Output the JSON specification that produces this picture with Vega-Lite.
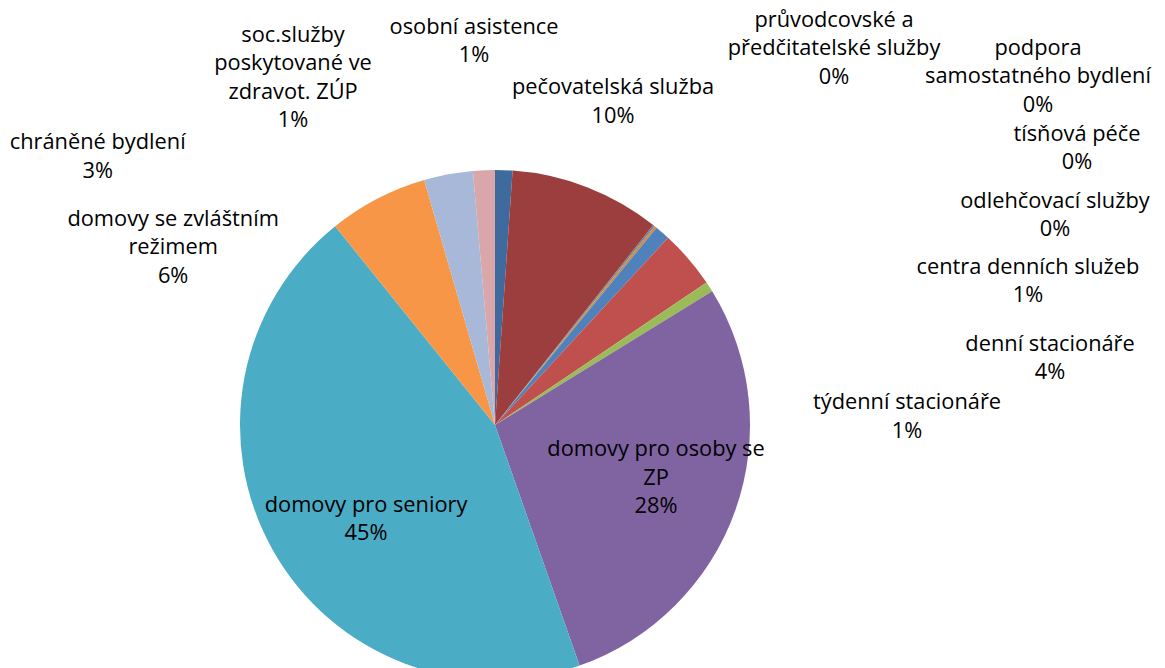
{
  "$schema": "https://vega.github.io/schema/vega-lite/v6.json",
  "autosize": {"type": "none"},
  "width": 990,
  "height": 486,
  "padding": {"left": 0, "top": 182, "right": 175, "bottom": 0},
  "background": "#ffffff",
  "config": {
    "view": {"stroke": null},
    "text": {"font": "Open Sans", "fontSize": 21.8, "fill": "#000000", "align": "center", "baseline": "middle", "lineBreak": "\n", "lineHeight": 28.5}
  },
  "data": {
    "values": [
      {"service": "osobní asistence", "share": 1.1, "ord": 1, "label": "osobní asistence\n1%"},
      {"service": "pečovatelská služba", "share": 9.55, "ord": 2, "label": "pečovatelská služba\n10%"},
      {"service": "průvodcovské a předčitatelské služby", "share": 0.03, "ord": 3, "label": "průvodcovské a\npředčitatelské služby\n0%"},
      {"service": "podpora samostatného bydlení", "share": 0.04, "ord": 4, "label": "podpora\nsamostatného bydlení\n0%"},
      {"service": "tísňová péče", "share": 0.05, "ord": 5, "label": "tísňová péče\n0%"},
      {"service": "odlehčovací služby", "share": 0.15, "ord": 6, "label": "odlehčovací služby\n0%"},
      {"service": "centra denních služeb", "share": 0.95, "ord": 7, "label": "centra denních služeb\n1%"},
      {"service": "denní stacionáře", "share": 3.7, "ord": 8, "label": "denní stacionáře\n4%"},
      {"service": "týdenní stacionáře", "share": 0.65, "ord": 9, "label": "týdenní stacionáře\n1%"},
      {"service": "domovy pro osoby se ZP", "share": 28.4, "ord": 10, "label": "domovy pro osoby se\nZP\n28%"},
      {"service": "domovy pro seniory", "share": 44.6, "ord": 11, "label": "domovy pro seniory\n45%"},
      {"service": "domovy se zvláštním režimem", "share": 6.3, "ord": 12, "label": "domovy se zvláštním\nrežimem\n6%"},
      {"service": "chráněné bydlení", "share": 3.1, "ord": 13, "label": "chráněné bydlení\n3%"},
      {"service": "soc.služby poskytované ve zdravot. ZÚP", "share": 1.38, "ord": 14, "label": "soc.služby\nposkytované ve\nzdravot. ZÚP\n1%"}
    ]
  },
  "encoding": {
    "theta": {"field": "share", "type": "quantitative", "stack": true},
    "order": {"field": "ord", "type": "quantitative"},
    "detail": {"field": "service", "type": "nominal"}
  },
  "layer": [
    {
      "mark": {"type": "arc", "outerRadius": 255},
      "encoding": {
        "color": {
          "field": "service",
          "type": "nominal",
          "legend": null,
          "scale": {
            "domain": ["osobní asistence", "pečovatelská služba", "průvodcovské a předčitatelské služby", "podpora samostatného bydlení", "tísňová péče", "odlehčovací služby", "centra denních služeb", "denní stacionáře", "týdenní stacionáře", "domovy pro osoby se ZP", "domovy pro seniory", "domovy se zvláštním režimem", "chráněné bydlení", "soc.služby poskytované ve zdravot. ZÚP"],
            "range": ["#3E6A9E", "#9C3E3D", "#7F7F7F", "#4D3B62", "#3B8FA5", "#D7883C", "#4F81BD", "#C0504D", "#9BBB59", "#8064A2", "#4BACC6", "#F79646", "#A8B8D8", "#D9A7A9"]
          }
        }
      }
    },
    {"mark": {"type": "text", "radius": 290, "dx": -31, "dy": -108.45},
     "encoding": {"text": {"condition": {"test": "datum.ord === 1", "field": "label"}, "value": ""}}},
    {"mark": {"type": "text", "radius": 290, "dx": 13.4, "dy": -67.25},
     "encoding": {"text": {"condition": {"test": "datum.ord === 2", "field": "label"}, "value": ""}}},
    {"mark": {"type": "text", "radius": 290, "dx": 158.9, "dy": -178},
     "encoding": {"text": {"condition": {"test": "datum.ord === 3", "field": "label"}, "value": ""}}},
    {"mark": {"type": "text", "radius": 290, "dx": 362.4, "dy": -150.6},
     "encoding": {"text": {"condition": {"test": "datum.ord === 4", "field": "label"}, "value": ""}}},
    {"mark": {"type": "text", "radius": 290, "dx": 400.7, "dy": -64.85},
     "encoding": {"text": {"condition": {"test": "datum.ord === 5", "field": "label"}, "value": ""}}},
    {"mark": {"type": "text", "radius": 290, "dx": 377.3, "dy": 0.95},
     "encoding": {"text": {"condition": {"test": "datum.ord === 6", "field": "label"}, "value": ""}}},
    {"mark": {"type": "text", "radius": 290, "dx": 342.6, "dy": 60.55},
     "encoding": {"text": {"condition": {"test": "datum.ord === 7", "field": "label"}, "value": ""}}},
    {"mark": {"type": "text", "radius": 290, "dx": 334.9, "dy": 107.55},
     "encoding": {"text": {"condition": {"test": "datum.ord === 8", "field": "label"}, "value": ""}}},
    {"mark": {"type": "text", "radius": 290, "dx": 168.2, "dy": 134.25},
     "encoding": {"text": {"condition": {"test": "datum.ord === 9", "field": "label"}, "value": ""}}},
    {"mark": {"type": "text", "radius": 165, "dx": 5.5, "dy": -31.1},
     "encoding": {"text": {"condition": {"test": "datum.ord === 10", "field": "label"}, "value": ""}}},
    {"mark": {"type": "text", "radius": 165, "dx": 15.2, "dy": -0.45},
     "encoding": {"text": {"condition": {"test": "datum.ord === 11", "field": "label"}, "value": ""}}},
    {"mark": {"type": "text", "radius": 290, "dx": -188.1, "dy": 50.9},
     "encoding": {"text": {"condition": {"test": "datum.ord === 12", "field": "label"}, "value": ""}}},
    {"mark": {"type": "text", "radius": 290, "dx": -344.2, "dy": 2.45},
     "encoding": {"text": {"condition": {"test": "datum.ord === 13", "field": "label"}, "value": ""}}},
    {"mark": {"type": "text", "radius": 290, "dx": -189.4, "dy": -100.75},
     "encoding": {"text": {"condition": {"test": "datum.ord === 14", "field": "label"}, "value": ""}}}
  ]
}
